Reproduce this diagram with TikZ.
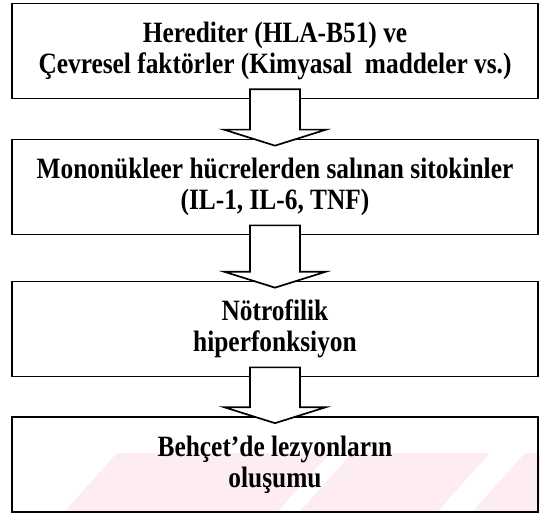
\documentclass[tikz,border=0pt]{standalone}
\usepackage{fontspec}
\setmainfont{Liberation Serif}
\newfontfamily\flowfont[FakeStretch=0.86]{Liberation Serif}
\usetikzlibrary{calc}
\definecolor{wmark}{RGB}{253,237,240}
\newcommand\blockarr[2]{%
  \draw[blockarrow] ($(#1.south)+(-25,-10)$) -- ($(#1.south)+(25,-10)$)
    -- ($(#2.north)+(25,-9)$) -- ($(#2.north)+(51,-9)$)
    -- ($(#2.north)+(0,7)$)
    -- ($(#2.north)+(-51,-9)$) -- ($(#2.north)+(-25,-9)$) -- cycle;}
\begin{document}
\begin{tikzpicture}[x=1pt,y=-1pt,
  flowbox/.style={draw, line width=1.7pt, minimum width=526pt, minimum height=95pt,
    inner sep=0pt, align=center, font=\flowfont\fontsize{29.5}{31}\selectfont\bfseries},
  blockarrow/.style={draw, fill=white, line width=1.7pt, line join=miter}]
\useasboundingbox (0,0) rectangle (540,513);
% faint watermark stripes
\fill[wmark] (117,453) -- (330,453) -- (278,511) -- (65,511) -- cycle;
\fill[wmark] (352,453) -- (490,453) -- (438,511) -- (300,511) -- cycle;
\fill[wmark] (525,453) -- (540,453) -- (540,511) -- (473,511) -- cycle;
% boxes
\node[flowbox] (b1) at (275,51) {Herediter (HLA-B51) ve\\Çevresel faktörler (Kimyasal\ \ maddeler vs.)};
\node[flowbox] (b2) at (275,187) {Mononükleer hücrelerden salınan sitokinler\\(IL-1, IL-6, TNF)};
\node[flowbox] (b3) at (275,329) {Nötrofilik\\hiperfonksiyon};
\node[flowbox] (b4) at (275,464.5) {Behçet’de lezyonların\\oluşumu};
% block arrows
\blockarr{b1}{b2}
\blockarr{b2}{b3}
\blockarr{b3}{b4}
\end{tikzpicture}
\end{document}
